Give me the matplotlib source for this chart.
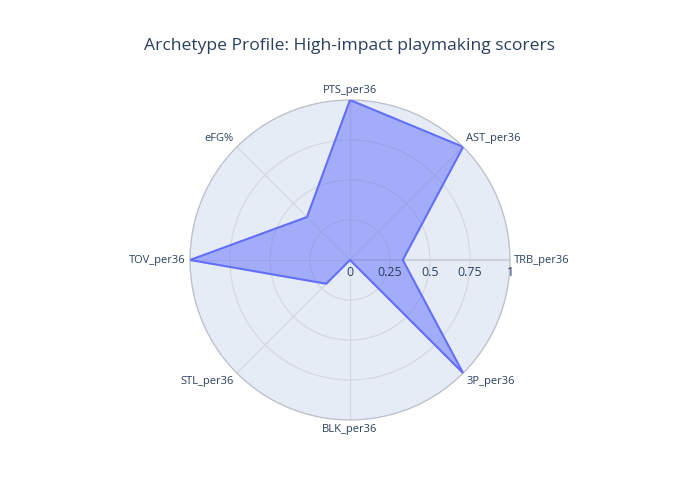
import numpy as np
import matplotlib
matplotlib.use("Agg")
from matplotlib import pyplot as plt

# Archetype profile values (normalised 0..1), clockwise from the top
categories = ['PTS_per36', 'AST_per36', 'TRB_per36', '3P_per36',
              'BLK_per36', 'STL_per36', 'TOV_per36', 'eFG%']
values = [1.0, 1.0, 0.33, 1.0, 0.0, 0.21, 1.0, 0.38]
r_ticks = [0, 0.25, 0.5, 0.75, 1]
r_tick_labels = ['0', '0.25', '0.5', '0.75', '1']
title = 'Archetype Profile: High-impact playmaking scorers'

plt.rcParams['font.family'] = ['Open Sans', 'DejaVu Sans']
text_col = '#2a3f5f'
line_col = '#636efa'


def draw_radar():
    fig = plt.figure(figsize=(7, 5), dpi=100)
    # polar area centred at (350, 260) px with radius ~160 px
    ax = fig.add_axes([0.5 - 160 / 700, 0.48 - 160 / 500, 320 / 700, 320 / 500],
                      projection='polar')
    ax.set_facecolor('#e5ecf6')
    ax.set_theta_zero_location('N')
    ax.set_theta_direction(-1)

    n = len(categories)
    angles = np.linspace(0, 2 * np.pi, n, endpoint=False)
    ang_closed = np.concatenate([angles, angles[:1]])
    val_closed = np.concatenate([values, values[:1]])

    ax.fill(ang_closed, val_closed, color=line_col, alpha=0.5, lw=0, zorder=3)
    ax.plot(ang_closed, val_closed, color=line_col, lw=1.5, zorder=4)

    ax.set_ylim(0, 1)
    ax.set_xticks(angles)
    ax.set_xticklabels([])
    ax.set_yticks(r_ticks)
    ax.set_yticklabels([])
    ax.grid(True, color='#d4d6de', lw=0.8)
    ax.spines['polar'].set_color('#bcc0ca')
    ax.spines['polar'].set_linewidth(0.9)
    ax.tick_params(length=0)

    # radial axis line toward TRB
    ax.plot([angles[2], angles[2]], [0, 1], color='#cdd0d8', lw=1.5, zorder=2)

    # radial tick labels below the axis line
    for rv, lab in zip(r_ticks, r_tick_labels):
        ax.annotate(lab, xy=(angles[2], rv), xytext=(0, -4), textcoords='offset points',
                    ha='center', va='top', fontsize=9, color=text_col, zorder=5)

    # angular category labels just outside the circle
    for a, lab in zip(angles, categories):
        dx, dy = np.sin(a), np.cos(a)
        ha = 'center' if abs(dx) < 0.1 else ('left' if dx > 0 else 'right')
        va = 'center' if abs(dy) < 0.1 else ('bottom' if dy > 0 else 'top')
        ax.annotate(lab, xy=(a, 1), xytext=(3 * dx, 3 * dy), textcoords='offset points',
                    ha=ha, va=va, fontsize=8, color=text_col, annotation_clip=False)

    fig.text(0.5, 1 - 46 / 500, title, ha='center', va='center',
             fontsize=12.6, color=text_col)

    fig.savefig('out.png', dpi=100, facecolor='white')


if __name__ == '__main__':
    draw_radar()
